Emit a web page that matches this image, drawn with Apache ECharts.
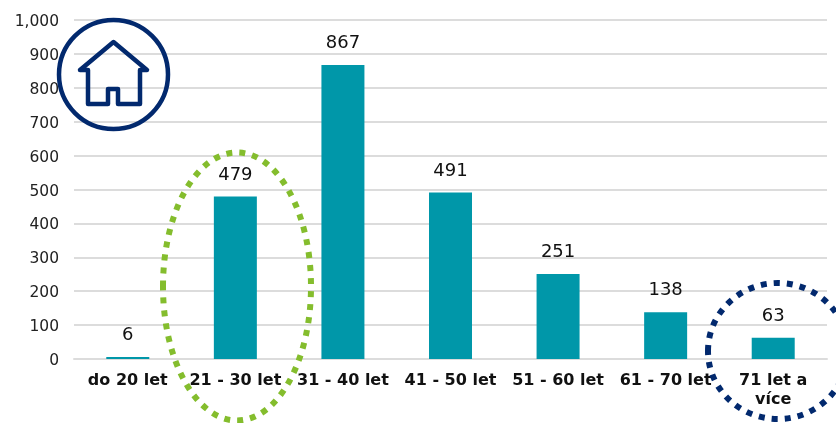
<!DOCTYPE html>
<html>
<head>
<meta charset="utf-8">
<style>
    html,body{margin:0;padding:0;background:#fff}
    #chart{width:836px;height:423px}
</style>
<script src="https://cdn.jsdelivr.net/npm/echarts@6/dist/echarts.min.js"></script>
</head>
<body>
<div id="chart"></div>
<script>
var categories = ["do 20 let","21 - 30 let","31 - 40 let","41 - 50 let","51 - 60 let","61 - 70 let","71 let a\nvíce"];
var counts = [6,479,867,491,251,138,63];

var NAVY = "#02296e";
var GREEN = "#84bd2d";
var FONT = "'DejaVu Sans', Verdana, sans-serif";

var chart = echarts.init(document.getElementById("chart"));

chart.setOption({
    animation: false,
    grid: {left: 74, right: 9, top: 20, bottom: 64},
    xAxis: {
        type: "category",
        data: categories,
        axisTick: {show: false},
        axisLine: {lineStyle: {color: "#dcdcdc", width: 2}},
        axisLabel: {
            interval: 0,
            margin: 12,
            lineHeight: 19,
            color: "#111",
            fontFamily: FONT,
            fontWeight: "bold",
            fontSize: 16
        }
    },
    yAxis: {
        type: "value",
        min: 0,
        max: 1000,
        interval: 100,
        axisLine: {show: false},
        axisTick: {show: false},
        splitLine: {lineStyle: {color: "#dcdcdc", width: 2}},
        axisLabel: {
            margin: 15,
            // nudges the numbers down a little against their gridlines
            verticalAlign: "top",
            lineHeight: 4,
            color: "#222",
            fontFamily: FONT,
            fontSize: 15.5,
            formatter: function(v){ return v >= 1000 ? "1,000" : String(v); }
        }
    },
    series: [{
        type: "bar",
        data: counts,
        barWidth: 43,
        itemStyle: {color: "#0097a9"},
        label: {
            show: true,
            position: "top",
            distance: 12.5,
            color: "#111",
            fontFamily: FONT,
            fontSize: 18
        }
    }],
    // annotations on top of the chart: home icon and the two highlight rings
    graphic: [
        {type: "circle", shape: {cx: 113.5, cy: 74.5, r: 54.5}, z: 50,
            style: {fill: "#fff", fillOpacity: 0, stroke: NAVY, lineWidth: 4.5}},
        {type: "polygon", z: 50,
            shape: {points: [[88,70],[80,70],[113.5,42],[147,70],[140,70],[140,104],[118,104],[118,89],[108,89],[108,104],[88,104]]},
            style: {fill: "none", stroke: NAVY, lineWidth: 4.5, lineJoin: "round"}},
        {type: "ellipse", shape: {cx: 237, cy: 286.5, rx: 74, ry: 134}, z: 50,
            style: {fill: "none", stroke: GREEN, lineWidth: 6, lineDash: [6, 7]}},
        {type: "ellipse", shape: {cx: 778, cy: 351, rx: 70, ry: 68}, z: 50,
            style: {fill: "none", stroke: NAVY, lineWidth: 6, lineDash: [6, 7]}}
    ]
});
</script>
</body>
</html>
